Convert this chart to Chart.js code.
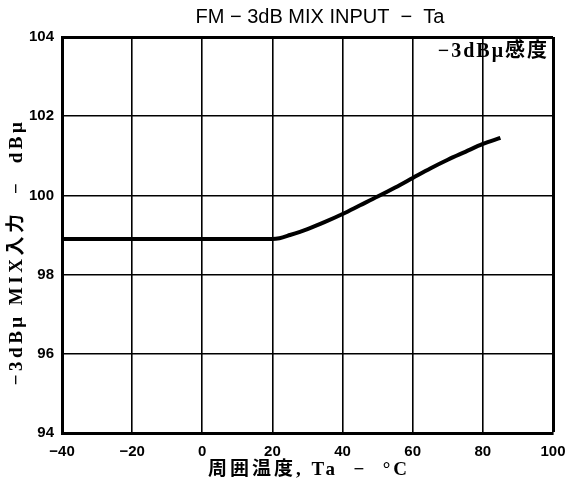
<!DOCTYPE html>
<html>
<head>
<meta charset="utf-8">
<script src="https://cdn.jsdelivr.net/npm/chart.js@4"></script>
<style>
  html, body { margin: 0; padding: 0; background: #fff; }
  #wrap { width: 568px; height: 484px; position: relative; }
</style>
</head>
<body>
<div id="wrap"><canvas id="c" width="568" height="484"></canvas></div>
<script>
// Ambient temperature (°C) and −3dB MIX input sensitivity (dBμ)
const temperatures = [-40, -30, -20, -10, 0, 10, 20, 22, 25, 30, 35, 40, 45, 50, 55, 60, 65, 70, 75, 80, 85];
const sensitivity  = [98.9, 98.9, 98.9, 98.9, 98.9, 98.9, 98.9, 98.92, 99.0, 99.15, 99.33, 99.53, 99.75, 99.97, 100.2, 100.44, 100.68, 100.9, 101.1, 101.3, 101.45];
const xTicks = [-40, -20, 0, 20, 40, 60, 80, 100];
const yTicks = [94, 96, 98, 100, 102, 104];

const titleText = 'FM − 3dB MIX INPUT  −  Ta';
const curveLabel = '−3dBμ感度';
const xTitle = '周囲温度, Ta  −  °C';
const yTitle = '−3dBμ MIX入力  −  dBμ';

const serif = '"Liberation Serif", "DejaVu Serif", "Noto Sans CJK JP", serif';
const sans = '"Liberation Sans", "DejaVu Sans", sans-serif';

// Draws the title, axis titles and the curve label as free text
const textPlugin = {
  id: 'freeText',
  afterDraw(chart) {
    const ctx = chart.ctx;
    const a = chart.chartArea;
    ctx.save();
    ctx.fillStyle = '#000';
    ctx.textBaseline = 'middle';

    ctx.font = '20px ' + sans;
    ctx.textAlign = 'center';
    ctx.fillText(titleText, 320, 17);

    ctx.font = 'bold 20px ' + serif;
    ctx.letterSpacing = '2px';
    ctx.textAlign = 'right';
    ctx.fillText(curveLabel, a.right - 4, 52);

    ctx.font = 'bold 19px ' + serif;
    ctx.letterSpacing = '3px';
    ctx.textAlign = 'center';
    ctx.fillText(xTitle, 309, 470);

    ctx.translate(17, 252);
    ctx.rotate(-Math.PI / 2);
    ctx.font = 'bold 19px ' + serif;
    ctx.letterSpacing = '3.5px';
    ctx.fillText(yTitle, 0, 0);
    ctx.restore();
  }
};

new Chart(document.getElementById('c'), {
  type: 'line',
  data: {
    datasets: [{
      data: temperatures.map((t, i) => ({ x: t, y: sensitivity[i] })),
      borderColor: '#000',
      borderWidth: 4,
      pointRadius: 0,
      cubicInterpolationMode: 'monotone',
      fill: false
    }]
  },
  options: {
    responsive: false,
    animation: false,
    events: [],
    layout: { padding: { left: 0, right: 15, top: 37, bottom: 0 } },
    plugins: { legend: { display: false }, tooltip: { enabled: false }, title: { display: false } },
    scales: {
      x: {
        type: 'linear',
        min: -40, max: 100,
        afterBuildTicks: s => { s.ticks = xTicks.map(v => ({ value: v })); },
        afterFit: s => { s.height = 51; s.paddingLeft = 0; s.paddingRight = 0; },
        grid: {
          color: '#000',
          lineWidth: c => (c.tick && c.tick.value === 100 ? 3 : 1.6),
          drawTicks: false
        },
        border: { color: '#000', width: 3 },
        ticks: {
          color: '#000',
          padding: 10,
          maxRotation: 0,
          autoSkip: false,
          font: { family: sans, size: 15, weight: 'bold' },
          callback: v => (v < 0 ? '−' + Math.abs(v) : String(v))
        }
      },
      y: {
        type: 'linear',
        min: 94, max: 104,
        afterBuildTicks: s => { s.ticks = yTicks.map(v => ({ value: v })); },
        afterFit: s => { s.width = 62; s.paddingTop = 0; s.paddingBottom = 0; },
        grid: {
          color: '#000',
          lineWidth: c => (c.tick && c.tick.value === 104 ? 3 : 1.6),
          drawTicks: false
        },
        border: { color: '#000', width: 3 },
        ticks: {
          color: '#000',
          padding: 8,
          autoSkip: false,
          font: { family: sans, size: 15, weight: 'bold' }
        }
      }
    }
  },
  plugins: [textPlugin]
});
</script>
</body>
</html>
